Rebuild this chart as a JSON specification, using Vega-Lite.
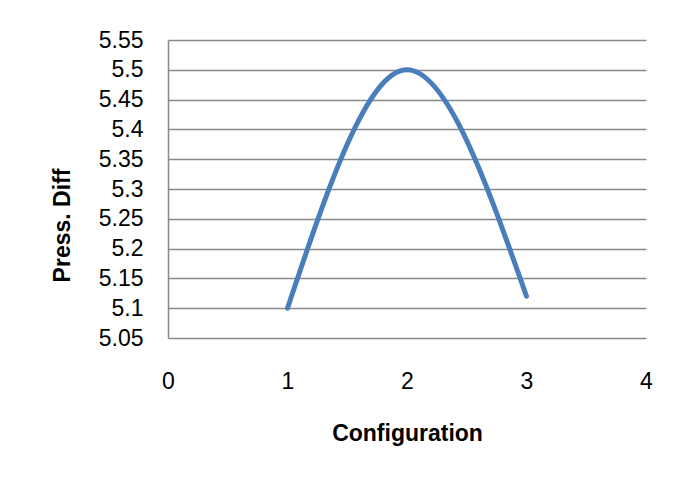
{
  "$schema": "https://vega.github.io/schema/vega-lite/v6.json",
  "autosize": "none",
  "width": 478,
  "height": 298,
  "padding": {"left": 168, "top": 40, "right": 32, "bottom": 139},
  "background": "white",
  "config": {
    "view": {"stroke": null},
    "font": "Liberation Sans"
  },
  "data": {
    "values": [
      {"Configuration": 1, "PressDiff": 5.1},
      {"Configuration": 2, "PressDiff": 5.5},
      {"Configuration": 3, "PressDiff": 5.12}
    ]
  },
  "mark": {"type": "line", "interpolate": "monotone", "color": "#4A7EBB", "strokeWidth": 5, "strokeCap": "round"},
  "encoding": {
    "x": {
      "field": "Configuration",
      "type": "quantitative",
      "scale": {"domain": [0, 4], "nice": false, "zero": false},
      "axis": {
        "title": "Configuration",
        "values": [0, 1, 2, 3, 4],
        "format": "d",
        "grid": false,
        "domain": false,
        "ticks": false,
        "labelFlush": false,
        "labelPadding": 32,
        "labelFont": "Liberation Sans",
        "labelFontSize": 23,
        "labelColor": "black",
        "titleFont": "Liberation Sans",
        "titleFontSize": 23,
        "titleFontWeight": "bold",
        "titleColor": "black",
        "titleY": 95,
        "titleBaseline": "middle"
      }
    },
    "y": {
      "field": "PressDiff",
      "type": "quantitative",
      "scale": {"domain": [5.05, 5.55], "nice": false, "zero": false},
      "axis": {
        "title": "Press. Diff",
        "values": [5.05, 5.1, 5.15, 5.2, 5.25, 5.3, 5.35, 5.4, 5.45, 5.5, 5.55],
        "format": "~g",
        "grid": true,
        "gridColor": "#898989",
        "gridWidth": 1.5,
        "domain": true,
        "domainColor": "#898989",
        "domainWidth": 1.5,
        "ticks": false,
        "labelFlush": false,
        "labelPadding": 25,
        "labelFont": "Liberation Sans",
        "labelFontSize": 23,
        "labelColor": "black",
        "titleFont": "Liberation Sans",
        "titleFontSize": 23,
        "titleFontWeight": "bold",
        "titleColor": "black",
        "titleX": -106,
        "titleY": 185,
        "titleAngle": -90,
        "titleBaseline": "middle",
        "titleAlign": "center"
      }
    }
  }
}
